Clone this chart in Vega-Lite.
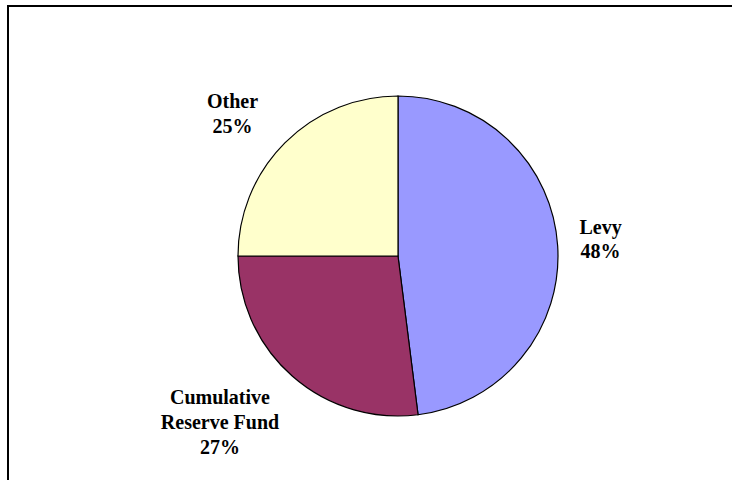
{
  "$schema": "https://vega.github.io/schema/vega-lite/v6.json",
  "width": 780,
  "height": 500,
  "autosize": {"type": "none"},
  "padding": {"left": 8, "top": 6, "right": 0, "bottom": 0},
  "background": "white",
  "view": {"stroke": "black", "strokeWidth": 2, "fill": "white"},
  "config": {"view": {"stroke": "black", "strokeWidth": 2}},
  "data": {
    "values": [
      {"category": "Levy", "value": 48, "order": 1, "label": "Levy\n48%"},
      {"category": "Cumulative Reserve Fund", "value": 27, "order": 2, "label": "Cumulative\nReserve Fund\n27%"},
      {"category": "Other", "value": 25, "order": 3, "label": "Other\n25%"}
    ]
  },
  "encoding": {
    "theta": {"field": "value", "type": "quantitative", "stack": true},
    "order": {"field": "order", "type": "quantitative"}
  },
  "layer": [
    {
      "mark": {"type": "arc", "outerRadius": 160, "stroke": "black", "strokeWidth": 1.2},
      "encoding": {
        "color": {
          "field": "category",
          "type": "nominal",
          "scale": {
            "domain": ["Levy", "Cumulative Reserve Fund", "Other"],
            "range": ["#9999FF", "#993366", "#FFFFCC"]
          },
          "legend": null
        }
      }
    },
    {
      "mark": {"type": "text", "radius": 203, "dy": -15, "font": "Liberation Serif", "fontWeight": "bold", "fontSize": 20, "lineHeight": 24, "lineBreak": "\n", "color": "black", "align": "center", "baseline": "middle"},
      "encoding": {
        "text": {"condition": {"test": "datum.category === 'Levy'", "field": "label"}, "value": ""}
      }
    },
    {
      "mark": {"type": "text", "radius": 217, "dx": -12, "dy": -1, "font": "Liberation Serif", "fontWeight": "bold", "fontSize": 20, "lineHeight": 25, "lineBreak": "\n", "color": "black", "align": "center", "baseline": "middle"},
      "encoding": {
        "text": {"condition": {"test": "datum.category === 'Other'", "field": "label"}, "value": ""}
      }
    },
    {
      "mark": {"type": "text", "radius": 242, "dx": -18, "dy": -40, "font": "Liberation Serif", "fontWeight": "bold", "fontSize": 20, "lineHeight": 25, "lineBreak": "\n", "color": "black", "align": "center", "baseline": "middle"},
      "encoding": {
        "text": {"condition": {"test": "datum.category === 'Cumulative Reserve Fund'", "field": "label"}, "value": ""}
      }
    }
  ]
}
